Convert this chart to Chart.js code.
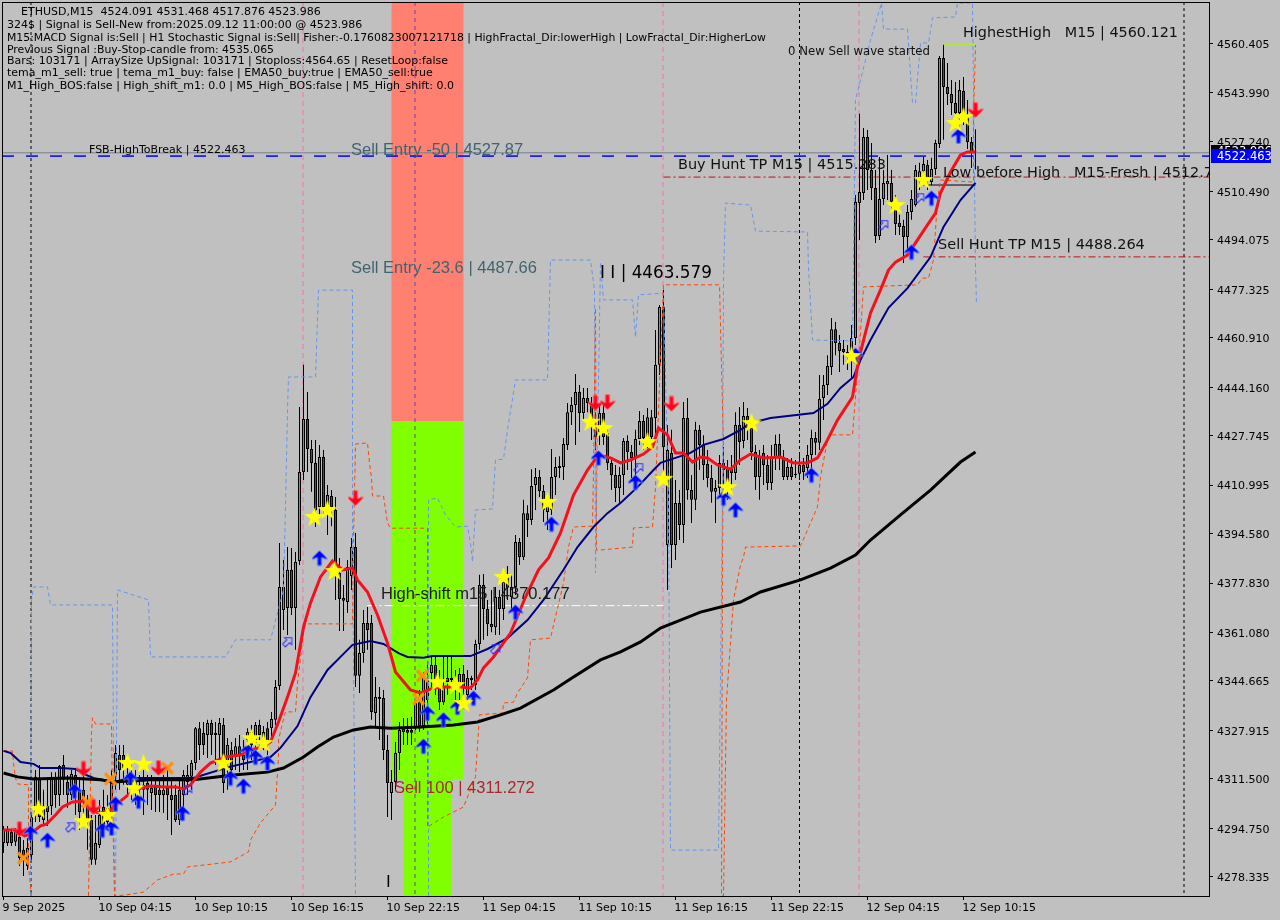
<!DOCTYPE html>
<html><head><meta charset="utf-8">
<style>html,body{margin:0;padding:0;background:#c0c0c0}canvas{display:block}</style>
<script src="https://cdn.jsdelivr.net/npm/chart.js@4/dist/chart.umd.js"></script>
</head><body><canvas id="c" width="1280" height="920"></canvas>
<script>
const opens=[4289.8,4289.8,4293.5,4290.2,4291.8,4287.5,4282.0,4285.7,4299.3,4311.8,
4297.6,4302.3,4302.3,4311.8,4306.1,4316.2,4310.5,4306.1,4312.8,4307.8,
4307.8,4304.4,4297.6,4284.1,4289.1,4302.0,4296.9,4300.0,4312.2,4319.6,
4319.6,4309.5,4309.5,4308.4,4309.5,4307.8,4310.1,4306.7,4309.5,4307.8,
4306.1,4308.4,4306.1,4306.1,4297.6,4306.1,4310.5,4312.2,4316.9,4328.7,
4327.1,4326.4,4330.4,4327.1,4326.4,4329.8,4317.2,4321.3,4319.6,4322.6,
4319.6,4324.7,4327.4,4323.7,4329.8,4324.0,4328.7,4328.7,4331.5,4343.0,
4368.7,4369.4,4382.3,4369.4,4385.3,4415.4,4433.4,4423.2,4418.5,4403.6,
4420.5,4401.6,4407.3,4402.6,4381.2,4372.8,4371.4,4380.2,4390.0,4346.4,
4354.1,4364.3,4364.3,4333.8,4339.2,4338.9,4321.3,4306.7,4310.5,4320.3,
4328.4,4328.1,4328.1,4329.1,4337.5,4329.4,4338.2,4347.4,4350.1,4342.3,
4337.5,4345.7,4345.7,4345.0,4343.3,4347.0,4339.9,4345.7,4343.3,4357.2,
4377.2,4369.0,4364.0,4362.9,4373.1,4369.0,4379.9,4373.1,4376.5,4391.7,
4386.6,4401.5,4399.2,4411.0,4413.7,4409.0,4401.9,4402.6,4413.7,4416.8,
4417.1,4424.6,4435.7,4438.1,4442.5,4435.4,4440.5,4438.1,4430.7,4429.0,
4435.4,4428.6,4418.5,4414.4,4410.0,4414.4,4425.9,4422.2,4420.5,4426.6,
4432.7,4427.3,4434.0,4433.7,4451.7,4471.3,4390.7,4421.9,4390.7,4404.9,
4397.5,4433.7,4409.3,4406.0,4429.7,4424.6,4418.1,4413.4,4408.7,4410.0,
4418.5,4416.8,4416.8,4415.1,4431.3,4425.9,4434.4,4430.3,4422.2,4413.7,
4421.9,4417.8,4411.7,4420.5,4424.9,4420.5,4413.7,4417.1,4414.8,4414.8,
4417.8,4416.8,4421.2,4426.9,4425.3,4440.5,4444.9,4451.0,4463.8,4459.1,
4457.1,4456.1,4454.4,4460.8,4506.5,4509.9,4528.9,4517.7,4511.6,4495.3,
4507.9,4512.9,4513.3,4506.9,4499.8,4498.7,4495.0,4503.5,4505.8,4514.6,
4517.3,4519.4,4513.6,4518.0,4526.5,4555.6,4545.8,4543.4,4540.4,4537.0,
4544.4,4535.6,4527.2,4524.091];
const closes=[4294.6,4294.6,4289.8,4294.2,4284.7,4284.7,4288.2,4298.6,4312.2,4298.6,
4302.3,4300.3,4311.8,4306.1,4315.9,4311.2,4306.1,4313.2,4307.1,4300.3,
4304.4,4296.9,4284.1,4289.8,4299.3,4295.9,4301.7,4310.1,4320.3,4314.5,
4315.2,4312.8,4307.8,4311.2,4307.8,4309.5,4307.8,4308.4,4306.1,4306.1,
4307.8,4306.1,4304.4,4297.6,4307.8,4312.8,4312.8,4316.9,4328.7,4323.0,
4323.0,4330.4,4326.4,4326.4,4330.4,4310.1,4323.0,4314.5,4322.6,4319.6,
4317.9,4327.4,4323.0,4329.8,4326.4,4327.4,4323.7,4331.8,4342.6,4376.5,
4376.5,4382.3,4369.4,4385.0,4415.4,4433.4,4423.2,4418.5,4402.6,4420.5,
4403.6,4407.6,4403.6,4384.0,4372.4,4371.8,4383.3,4390.0,4346.4,4354.1,
4364.3,4361.9,4334.2,4339.2,4338.6,4321.3,4310.1,4310.5,4320.3,4328.1,
4327.4,4327.1,4327.1,4337.2,4329.4,4346.0,4345.0,4350.1,4345.0,4337.5,
4342.6,4344.3,4345.0,4341.6,4347.0,4342.3,4345.7,4345.0,4357.2,4377.2,
4369.0,4364.0,4362.9,4373.1,4369.0,4378.2,4376.2,4376.5,4391.7,4386.6,
4401.5,4399.2,4410.7,4413.7,4409.0,4402.6,4406.0,4413.7,4417.1,4417.5,
4424.9,4435.7,4438.1,4442.5,4435.4,4440.5,4438.8,4433.0,4427.3,4435.4,
4427.3,4418.5,4414.4,4410.0,4414.4,4425.9,4422.2,4420.2,4426.6,4432.7,
4426.9,4434.0,4427.3,4451.7,4471.3,4423.9,4422.9,4390.7,4404.9,4397.5,
4433.7,4409.3,4406.0,4429.7,4424.6,4417.8,4413.4,4408.7,4410.0,4418.5,
4416.1,4410.3,4415.1,4431.3,4425.6,4434.4,4430.3,4422.2,4413.7,4420.5,
4417.8,4411.7,4420.5,4424.9,4420.5,4413.7,4417.1,4413.7,4414.4,4417.8,
4415.4,4421.2,4426.9,4425.3,4440.2,4444.9,4451.3,4463.8,4459.1,4456.4,
4456.1,4454.4,4460.8,4506.9,4510.2,4528.9,4517.7,4511.6,4495.3,4507.9,
4513.3,4514.0,4506.9,4499.4,4498.4,4495.0,4503.5,4507.9,4517.7,4517.3,
4519.7,4515.0,4518.0,4526.8,4555.6,4545.8,4543.4,4540.4,4537.0,4544.8,
4535.6,4527.2,4523.8,4523.986];
const highs=[4295.6,4295.6,4294.6,4294.9,4294.2,4290.8,4291.5,4299.3,4314.5,4316.2,
4307.8,4311.2,4313.8,4313.8,4316.2,4319.6,4312.8,4314.5,4314.5,4311.2,
4314.5,4306.1,4299.3,4299.3,4304.4,4307.8,4306.1,4314.5,4323.0,4323.0,
4323.0,4319.6,4317.9,4314.5,4312.8,4314.5,4312.8,4312.8,4311.2,4311.2,
4312.8,4314.5,4311.2,4309.5,4311.2,4314.5,4316.2,4317.9,4329.1,4330.8,
4330.8,4331.5,4331.5,4330.8,4332.1,4332.1,4325.4,4324.0,4325.4,4326.4,
4324.7,4328.7,4329.8,4330.8,4331.5,4329.4,4330.8,4334.2,4345.0,4391.4,
4385.6,4390.0,4389.7,4388.3,4437.4,4451.7,4442.5,4426.3,4426.3,4424.6,
4422.9,4411.0,4409.3,4407.0,4386.3,4377.2,4385.6,4393.1,4394.8,4358.6,
4368.7,4369.7,4367.0,4346.0,4342.6,4341.6,4326.4,4314.5,4324.0,4330.8,
4332.1,4332.1,4332.5,4338.2,4341.6,4347.7,4350.1,4352.8,4352.8,4348.4,
4352.8,4352.8,4352.8,4348.4,4349.1,4350.1,4348.4,4346.4,4358.6,4380.6,
4380.9,4372.1,4375.5,4376.5,4375.5,4381.6,4383.6,4380.6,4394.1,4393.1,
4406.0,4404.2,4416.4,4416.8,4416.1,4411.0,4407.6,4423.2,4420.5,4420.8,
4426.9,4438.8,4440.8,4448.6,4444.9,4443.9,4443.9,4440.8,4435.7,4438.1,
4438.1,4430.3,4420.2,4417.8,4417.1,4426.9,4427.9,4424.6,4429.7,4436.1,
4434.7,4437.1,4436.4,4463.5,4472.0,4477.1,4431.3,4429.7,4412.7,4409.3,
4439.1,4440.5,4414.4,4432.4,4431.3,4427.9,4422.9,4417.8,4412.7,4421.2,
4423.9,4419.5,4421.2,4435.7,4437.4,4439.1,4437.1,4433.0,4424.6,4422.9,
4424.6,4421.2,4424.6,4428.0,4428.3,4422.9,4420.2,4420.2,4419.5,4421.2,
4420.2,4424.6,4429.7,4429.0,4448.3,4448.3,4455.0,4467.6,4466.2,4461.8,
4460.1,4458.4,4465.2,4509.2,4536.7,4531.9,4531.2,4526.8,4517.7,4522.1,
4517.7,4522.8,4517.7,4509.2,4502.5,4500.8,4505.8,4510.9,4519.4,4520.1,
4522.1,4521.1,4521.8,4527.9,4556.3,4560.1,4553.9,4548.2,4547.5,4548.2,
4549.2,4541.4,4528.9,4531.468];
const lows=[4286.4,4288.8,4288.8,4288.8,4282.0,4278.6,4280.7,4284.1,4296.9,4296.9,
4295.6,4295.6,4299.3,4301.7,4302.3,4306.1,4301.7,4304.4,4299.3,4294.2,
4299.3,4287.5,4282.4,4282.4,4288.1,4294.2,4294.2,4294.2,4307.8,4307.8,
4309.5,4306.1,4304.4,4302.7,4305.0,4299.3,4302.7,4301.0,4300.3,4300.3,
4300.0,4297.6,4292.5,4296.9,4295.9,4299.3,4306.1,4307.8,4314.5,4317.9,
4319.6,4318.6,4319.6,4316.2,4318.6,4306.7,4307.8,4311.8,4314.5,4313.8,
4314.5,4314.5,4317.9,4319.6,4322.0,4321.3,4319.6,4324.7,4329.8,4341.6,
4361.9,4360.2,4367.0,4355.2,4383.9,4412.7,4415.4,4408.7,4396.8,4400.9,
4400.9,4394.1,4397.1,4372.1,4361.6,4361.6,4367.7,4375.5,4342.6,4340.6,
4350.8,4355.2,4331.5,4329.1,4324.7,4317.9,4298.6,4297.6,4307.8,4314.5,
4323.0,4323.0,4323.0,4328.1,4327.4,4328.1,4329.8,4341.6,4339.9,4334.8,
4336.5,4339.9,4341.6,4338.2,4338.2,4339.9,4338.2,4341.6,4341.6,4355.2,
4358.6,4359.9,4361.2,4360.2,4360.2,4365.3,4372.1,4368.7,4373.8,4383.9,
4385.6,4393.4,4397.5,4402.6,4407.0,4398.5,4395.8,4400.9,4407.6,4413.4,
4412.7,4422.9,4431.3,4424.6,4429.0,4433.0,4435.7,4426.3,4422.9,4424.6,
4424.6,4416.1,4409.3,4405.3,4405.0,4407.6,4416.1,4413.4,4414.4,4424.6,
4422.9,4423.5,4422.9,4428.0,4448.3,4412.7,4375.5,4382.9,4385.6,4392.4,
4391.4,4406.0,4398.2,4402.6,4416.1,4412.7,4410.3,4405.0,4398.2,4407.6,
4409.3,4406.0,4409.3,4412.7,4417.8,4423.5,4426.3,4419.5,4409.3,4406.0,
4411.0,4409.3,4409.3,4416.1,4416.1,4412.7,4412.7,4412.7,4413.4,4412.7,
4412.7,4413.4,4416.8,4421.2,4422.9,4433.0,4441.5,4448.3,4455.0,4449.3,
4451.7,4450.0,4447.3,4458.4,4494.0,4507.5,4510.9,4507.5,4493.0,4494.0,
4505.8,4507.5,4504.2,4495.7,4495.7,4486.2,4490.6,4500.8,4505.2,4510.9,
4512.6,4510.9,4512.6,4516.0,4525.1,4527.9,4539.7,4536.3,4535.3,4531.2,
4532.9,4524.8,4518.4,4517.876];

const fastEma=[[0,4294.2],[3,4294.2],[5.25,4292.2],[6.75,4292.9],[9.25,4295.6],[10.75,4296.2],[13,4299.3],[14.75,4302.0],[17.25,4303.7],[20,4304.0],[22.25,4300.6],[24.25,4299.9],[26.75,4301.0],[29.25,4304.0],[31.75,4306.7],[34.25,4308.4],[36.75,4309.1],[40.5,4308.8],[43,4308.8],[45,4308.1],[46.75,4309.5],[49.25,4313.8],[51.75,4316.9],[55.5,4318.9],[59.25,4319.6],[61.75,4321.3],[64.75,4322.3],[66.75,4324.0],[68.75,4330.8],[71,4339.2],[73,4347.4],[75,4362.9],[76.75,4371.1],[79.25,4379.9],[82.25,4385.3],[84.75,4382.3],[87.25,4382.9],[88.5,4378.9],[91,4374.8],[93.5,4367.0],[96,4357.5],[98,4347.7],[101.75,4341.6],[104.25,4340.6],[107.5,4342.3],[110.5,4342.6],[114.25,4342.6],[116.75,4342.3],[118.5,4345.0],[120,4349.1],[122.5,4352.8],[126.75,4360.9],[130.5,4373.1],[133.75,4382.3],[136.25,4386.3],[139.25,4394.8],[142.5,4407.6],[146,4416.1],[148.75,4421.2],[151.75,4420.2],[154.25,4418.5],[156.75,4419.5],[160,4421.5],[162.25,4423.9],[163.75,4430.3],[166,4428.0],[168,4421.9],[170,4421.9],[172.25,4418.8],[174.25,4420.5],[176,4420.2],[178.5,4417.8],[181.75,4416.4],[184.25,4419.5],[186.75,4421.5],[190,4420.2],[194.25,4420.5],[197.5,4418.5],[201,4418.5],[203.5,4420.2],[206,4426.3],[208.5,4433.0],[212.25,4440.8],[213.75,4453.3],[216.75,4469.3],[219.25,4477.1],[221.25,4483.8],[223,4486.5],[226,4488.9],[228.5,4494.0],[231,4499.1],[233,4503.1],[234.25,4509.9],[236.75,4517.0],[239.25,4522.8],[241,4523.8],[243,4523.8]];
const midEma=[[0,4321.0],[1.75,4320.3],[4.25,4317.2],[7.5,4316.6],[9.25,4315.2],[14.25,4315.2],[18,4314.9],[20,4313.2],[22.5,4311.8],[27.5,4310.5],[31.75,4311.8],[36.75,4311.8],[41.75,4311.8],[47.5,4311.8],[56.25,4315.5],[61.75,4317.2],[66.75,4318.9],[69.25,4322.0],[73.5,4329.4],[76.75,4339.2],[81,4348.4],[84.75,4353.5],[87.25,4356.9],[91.75,4358.2],[95,4357.2],[98.75,4354.1],[101,4352.8],[105,4352.5],[107.25,4353.1],[116.75,4353.1],[121,4355.5],[126,4359.2],[131,4365.3],[135,4372.1],[140,4382.3],[143.5,4390.0],[147.5,4396.8],[151,4401.5],[154.25,4404.9],[158.5,4410.3],[162.5,4416.1],[164.25,4418.5],[168,4420.2],[171.75,4421.9],[175,4424.6],[180,4426.6],[184.25,4429.7],[186.75,4432.0],[191.75,4433.7],[202.5,4435.4],[206,4438.5],[209.25,4443.9],[212.5,4447.6],[214.25,4453.3],[216.75,4460.1],[221.25,4471.0],[226,4477.7],[231.75,4488.2],[235,4498.4],[239.25,4507.5],[243,4513.3]];
const slowEma=[[0,4313.5],[3.5,4312.2],[7.5,4311.5],[16,4311.8],[24.25,4311.2],[27.5,4310.5],[36.75,4311.2],[47.5,4311.2],[57.5,4312.8],[66,4313.8],[70,4315.2],[75,4318.9],[78.5,4322.3],[82.5,4325.7],[87.5,4328.1],[91.75,4329.1],[96.75,4328.7],[104.25,4329.1],[112.5,4329.8],[118.5,4330.8],[124.25,4333.2],[129.25,4335.5],[137.5,4341.6],[142.5,4346.0],[149.25,4351.8],[154.25,4354.5],[159.25,4357.9],[164.25,4362.6],[169.25,4365.3],[174.25,4368.0],[184.25,4371.4],[189.25,4374.8],[199.25,4378.9],[206.75,4382.9],[213,4387.3],[216.75,4392.4],[224.25,4400.9],[231.75,4409.3],[239.25,4418.8],[243,4422.2]];
const lowerBand=[[0,4321.0],[2.25,4321.0],[2.5,4316.9],[3,4311.8],[3.5,4309.8],[6.25,4309.5],[6.25,4281.7],[7,4271.9],[14,null],[21.25,4271.9],[22,4327.1],[22.25,4332.2],[23,4330.1],[27,4330.1],[27.25,4304.4],[27.75,4271.9],[30.5,4272.2],[35,4273.2],[38.5,4277.3],[42.5,4279.3],[45,4279.3],[46,4281.7],[54.25,4283.0],[56.75,4283.4],[61.25,4286.8],[61.75,4290.8],[64.25,4296.6],[68,4302.7],[68.75,4319.0],[68.75,4324.7],[69.75,4330.4],[70.5,4334.2],[73,4334.2],[73.5,4344.0],[75,4360.9],[75.5,4364.0],[87.25,4364.0],[87.5,4392.4],[88,4424.9],[91,4425.3],[91.5,4418.5],[92,4413.4],[92.25,4407.3],[95,4407.3],[96,4398.2],[96.75,4396.4],[106,4396.4],[106,4295.2],[110,4298.6],[115,4302.0],[118,4312.2],[119,4333.2],[124.75,4333.8],[125,4337.2],[127.5,4337.5],[128.5,4340.6],[131,4345.7],[131.75,4358.6],[136.75,4359.2],[140,4377.8],[141.25,4390.0],[142.5,4396.8],[147.25,4397.1],[147.5,4416.1],[148,4471.0],[148.25,4389.0],[149,4389.0],[157.25,4390.0],[157.5,4396.5],[162.25,4396.8],[163,4410.3],[165,4478.8],[179,4478.8],[180,4423.9],[179.75,4385.6],[179.5,4271.9],[180,4271.9],[180.75,4338.2],[182.5,4372.1],[184.25,4383.9],[185,4386.6],[185.5,4390.0],[199.25,4390.4],[201,4395.8],[203.5,4403.6],[204.25,4413.7],[206,4426.3],[206.75,4428.0],[212.25,4428.0],[214.25,4462.5],[215,4478.1],[228.5,4478.8],[229.75,4481.1],[231.25,4481.1],[232.5,4487.2],[233.5,4507.5],[234.25,4514.3],[242.5,4513.6],[242.5,4535.6],[243,4560.0]];
const upperBand=[[6.75,4271.9],[7,4372.1],[7.5,4376.5],[11,4376.5],[11.75,4370.4],[27.25,4370.4],[27.75,4271.9],[28,4271.9],[28.5,4375.5],[36.25,4372.1],[36.75,4352.8],[45.5,4352.8],[55.5,4352.8],[58,4358.6],[66.75,4358.6],[70,4375.5],[70.5,4403.6],[71,4436.4],[71.25,4447.6],[78,4447.6],[78.75,4477.0],[87.25,4477.0],[87.25,4392.4],[88,4271.9],[97,null],[106.25,4271.9],[106.25,4406.0],[108.5,4406.6],[110.5,4400.9],[113,4396.8],[116,4397.1],[116.75,4391.4],[117.25,4385.0],[118,4402.6],[122.25,4402.9],[123,4419.5],[125,4419.8],[126,4429.7],[128,4446.6],[136,4446.6],[136.75,4487.2],[146.75,4487.2],[147.75,4477.0],[148,4381.2],[148.5,4426.3],[149.25,4486.5],[150,4473.7],[157.25,4473.7],[158,4461.1],[158.75,4475.4],[165,4476.0],[166.25,4406.0],[166.75,4287.4],[178.75,4287.4],[179.75,4406.0],[180,4480.4],[180.5,4506.5],[186.75,4505.8],[188,4497.0],[201,4496.7],[201.25,4484.8],[202.25,4460.1],[212.25,4459.8],[213,4541.4],[216.75,4561.7],[219.5,4574.2],[220,4565.4],[226,4565.4],[227.25,4540.4],[228,4540.4],[229.25,4560.7],[231.25,4560.7],[232.25,4569.2],[238,4569.5],[238.5,4574.2],[242.25,4574.2],[243,4484.8],[243.25,4472.0]];

const starSignals=[[8.75,4301.3],[20,4297.2],[26,4299.3],[31,4316.9],[35,4316.6],[32.75,4308.4],[55,4316.9],[62,4325.3],[65,4323.7],[77.75,4400.2],[81,4402.6],[82.75,4381.9],[108.5,4344.3],[113,4343.3],[115,4337.2],[125,4379.9],[136,4405.3],[146.75,4432.4],[150,4430.3],[161,4425.6],[165,4413.1],[181,4410.3],[187,4432.0],[212,4454.7],[223,4505.8],[230,4514.3],[238,4533.6],[240,4535.6]];
const buyArrows=[[6.75,4293.2],[11,4290.8],[17.75,4307.4],[24.75,4294.2],[27,4294.9],[28,4303.0],[31.75,4311.5],[33.75,4304.0],[44.75,4299.9],[56.75,4311.8],[60,4309.1],[61,4320.9],[63,4318.9],[66,4316.9],[79,4386.3],[105,4322.6],[106,4333.8],[110,4331.5],[113.5,4335.8],[117.5,4338.9],[128,4368.0],[137,4397.8],[148.75,4420.2],[158,4412.0],[180,4406.6],[183,4402.6],[202,4414.4],[213,4455.0],[227,4489.9],[232,4508.2],[238.75,4529.2]];
const sellArrows=[[4,4294.5],[20,4314.9],[22.5,4302.0],[38.75,4315.2],[88,4406.6],[148,4438.8],[151,4439.1],[167,4438.5],[243,4538.0]];
const crossSignals=[[5,4284.7],[21,4303.7],[26.75,4311.5],[41,4315.2],[104.75,4346.4],[103.75,4338.6]];
const hollowArrows=[[16.75,4295.2],[46,4307.8],[71,4357.9],[123,4355.5],[158.75,4416.8],[220,4499.1],[229,4508.2]];

const priceTicks=[4560.405,4543.990,4527.240,4510.490,4494.075,4477.325,4460.910,4444.160,4427.745,4410.995,4394.580,4377.830,4361.080,4344.665,4327.915,4311.500,4294.750,4278.335];
const timeTicks=[0,24,48,72,96,120,144,168,192,216,240];
const timeLabels=['9 Sep 2025','10 Sep 04:15','10 Sep 10:15','10 Sep 16:15','10 Sep 22:15','11 Sep 04:15','11 Sep 10:15','11 Sep 16:15','11 Sep 22:15','12 Sep 04:15','12 Sep 10:15'];

const zoneBar=106;
const redZone=[4432.7,4574.6];
const greenZone=[4311.272,4432.7];
const lowerZone=[4271.8,4311.272];
const Y_MIN=4271.86, Y_MAX=4574.57, X_MIN=-0.375, X_MAX=301.375;
const dottedBars=[6.875,199,295.125];
const pinkBars=[74.875,164.875,213.875];
const purpleBars=[102.875];

const infoLines=[
 ['ETHUSD,M15  4524.091 4531.468 4517.876 4523.986',21,12,305],
 ['324$ | Signal is Sell-New from:2025.09.12 11:00:00 @ 4523.986',7,25,357],
 ['M15:MACD Signal is:Sell | H1 Stochastic Signal is:Sell| Fisher:-0.1760823007121718 | HighFractal_Dir:lowerHigh | LowFractal_Dir:HigherLow',7,38,759],
 ['Previous Signal :Buy-Stop-candle from: 4535.065',7,50,267],
 ['Bars: 103171 | ArraySize UpSignal: 103171 | Stoploss:4564.65 | ResetLoop:false',7,61,441],
 ['tema_m1_sell: true | tema_m1_buy: false | EMA50_buy:true | EMA50_sell:true',7,73,436],
 ['M1_High_BOS:false | High_shift_m1: 0.0 | M5_High_BOS:false | M5_High_shift: 0.0',7,86,456]
];
const chartNotes=[
 ['FSB-HighToBreak | 4522.463',89,150,159,'11px "DejaVu Sans"','#000'],
 ['Sell Entry -50 | 4527.87',351,150,173,'16.5px "Liberation Sans"','#3f6470'],
 ['Sell Entry -23.6 | 4487.66',351,268,187,'16.5px "Liberation Sans"','#3f6470'],
 ['High-shift m15 | 4370.177',381,594,191,'16.5px "Liberation Sans"','#1a1a1a'],
 ['Sell 100 | 4311.272',394,788,141,'16.5px "Liberation Sans"','#a52a2a'],
 ['Buy Hunt TP M15 | 4515.283',678,165,208,'14.5px "DejaVu Sans"','#111'],
 ['Low before High   M15-Fresh | 4512.7',943,173,270,'14.5px "DejaVu Sans"','#111'],
 ['HighestHigh   M15 | 4560.121',963,33,215,'14.5px "DejaVu Sans"','#111'],
 ['0 New Sell wave started',788,52,142,'12px "DejaVu Sans"','#111'],
 ['Sell Hunt TP M15 | 4488.264',938,245,207,'14.5px "DejaVu Sans"','#111'],
 ['I I | 4463.579',600,273,112,'18px "DejaVu Sans"','#000'],
 ['I',386,883,6,'16px "DejaVu Sans"','#000']
];

const pts=a=>a.map(p=>({x:p[0],y:p[1]}));
const bars=opens.map((_,i)=>i);
function mk(w,h,draw){const c=document.createElement('canvas');c.width=w;c.height=h;draw(c.getContext('2d'),w,h);return c;}
const starImg=mk(22,22,(g)=>{g.beginPath();for(let i=0;i<10;i++){const r=i%2?4.3:10.5,a=-Math.PI/2+i*Math.PI/5;g.lineTo(11+r*Math.cos(a),11.5+r*Math.sin(a));}g.closePath();g.fillStyle='#ffff00';g.fill();});
function arrowPath(g,dy){g.beginPath();[[8,1],[15,8],[15,10],[11,8],[10,8],[10,16],[6,16],[6,8],[5,8],[1,10],[1,8]].forEach(p=>g.lineTo(p[0],dy<0?17-p[1]:p[1]));g.closePath();}
const buyImg=mk(16,17,(g)=>{arrowPath(g,1);g.fillStyle='#0000ff';g.fill();g.strokeStyle='rgba(90,140,255,.9)';g.lineWidth=1;g.stroke();});
const sellImg=mk(16,17,(g)=>{arrowPath(g,-1);g.fillStyle='#ff0020';g.fill();g.strokeStyle='rgba(255,90,90,.9)';g.lineWidth=1;g.stroke();});
const hollowImg=mk(12,12,(g)=>{g.translate(6,6);g.rotate(Math.PI/4);g.translate(-6,-6);g.beginPath();[[6,0],[11,5],[8,5],[8,11],[4,11],[4,5],[1,5]].forEach(p=>g.lineTo(p[0],p[1]));g.closePath();g.strokeStyle='#3030ff';g.lineWidth=1;g.stroke();});
const crossImg=mk(15,15,(g)=>{g.strokeStyle='#ff9010';g.lineWidth=3.2;g.beginPath();g.moveTo(2,2);g.lineTo(13,13);g.moveTo(13,2);g.lineTo(2,13);g.stroke();});

const lineDs=(data,color,width,dash,order)=>({type:'line',data:data,borderColor:color,borderWidth:width,borderDash:dash||[],pointRadius:0,tension:0,fill:false,spanGaps:false,order:order});
const markerDs=(data,img,order)=>({type:'line',data:pts(data),showLine:false,pointStyle:img,pointRadius:9,pointHoverRadius:9,order:order});
const vert=(x,color,dash)=>lineDs([{x:x,y:Y_MAX},{x:x,y:Y_MIN}],color,1,dash,8);
const horiz=(x0,x1,p,color,dash,w)=>lineDs([{x:x0,y:p},{x:x1,y:p}],color,w||1,dash,7);
const zone=(r,color,thick)=>({type:'bar',data:[{x:zoneBar,y:r}],backgroundColor:color,barThickness:thick,grouped:false,order:20,inflateAmount:0});

const datasets=[
 zone(redZone,'#ff8070',72),zone(greenZone,'#80ff00',72),zone(lowerZone,'#80ff00',48),
 ...dottedBars.map(x=>vert(x,'#000',[3,3])),
 ...pinkBars.map(x=>vert(x,'#f070b0',[5,4])),
 ...purpleBars.map(x=>vert(x,'#7040b0',[4,4])),
 horiz(X_MIN,X_MAX,4523.5,'#708090',[],1),
 horiz(X_MIN,X_MAX,4522.4,'#0000ff',[12,12],1.5),
 horiz(165,X_MAX,4515.283,'#c01010',[7,3,2,3],1),
 horiz(230,X_MAX,4488.264,'#c01010',[7,3,2,3],1),
 horiz(91,165,4370.177,'#ffffff',[9,3,2,3],1),
 horiz(230,243,4512.6,'#000',[],1),
 horiz(235,243,4560.121,'#b0f020',[],1),
 {type:'bar',data:bars.map(i=>({x:i,y:[lows[i],highs[i]]})),backgroundColor:'#000',barThickness:1,grouped:false,order:6,inflateAmount:0},
 {type:'bar',data:bars.map(i=>({x:i,y:[opens[i],closes[i]]})),backgroundColor:bars.map(i=>closes[i]>=opens[i]?'#22c384':'#b8203e'),borderColor:'#000',borderWidth:1,borderSkipped:false,barThickness:3,grouped:false,order:5,inflateAmount:0},
 lineDs(pts(lowerBand),'#ff4500',1,[4,3],4),
 lineDs(pts(upperBand),'#6495ed',1,[4,3],4),
 lineDs(pts(slowEma),'#000',3,[],3),
 lineDs(pts(midEma),'#000080',2,[],3),
 lineDs(pts(fastEma),'#f5101e',3,[],2),
 markerDs(hollowArrows,hollowImg,1.4),
 markerDs(crossSignals,crossImg,1.3),
 markerDs(buyArrows,buyImg,1.2),
 markerDs(sellArrows,sellImg,1.1),
 markerDs(starSignals,starImg,1)
];

const notesPlugin={id:'notes',afterDraw(ch){
 const g=ch.ctx,a=ch.chartArea;
 g.save();g.strokeStyle='#000';g.lineWidth=1;g.strokeRect(2.5,2.5,1207,894);
 g.beginPath();g.rect(a.left,a.top,a.right-a.left,a.bottom-a.top);g.clip();
 g.textBaseline='middle';g.textAlign='left';
 chartNotes.forEach(n=>{g.font=n[4];g.fillStyle=n[5];g.fillText(n[0],n[1],n[2],n[3]);});
 g.font='11px "DejaVu Sans"';g.fillStyle='#000';
 infoLines.forEach(n=>g.fillText(n[0],n[1],n[2],n[3]));
 g.restore();
 g.save();g.font='11.5px "DejaVu Sans"';g.textBaseline='middle';g.textAlign='left';
 g.fillStyle='#000';g.fillRect(1211,145,60,13);g.fillStyle='#fff';g.fillText('4523.986',1217,152);
 g.fillStyle='#0000ff';g.fillRect(1211,149,60,14);g.fillStyle='#fff';g.fillText('4522.463',1217,157);
 g.restore();
}};
const zeroPad=s=>{s.paddingLeft=0;s.paddingRight=0;s.paddingTop=0;s.paddingBottom=0;};

new Chart(document.getElementById('c'),{
 type:'bar',
 data:{datasets:datasets},
 plugins:[notesPlugin],
 options:{
  responsive:false,animation:false,devicePixelRatio:1,
  layout:{autoPadding:false,padding:{left:2,top:2,right:0,bottom:0}},
  plugins:{legend:{display:false},tooltip:{enabled:false}},
  scales:{
   x:{type:'linear',min:X_MIN,max:X_MAX,offset:false,
    grid:{display:true,drawOnChartArea:false,drawTicks:true,tickLength:4,tickColor:'#000',offset:false},
    border:{display:true,color:'#000'},
    afterBuildTicks:s=>{s.ticks=timeTicks.map(v=>({value:v}));},
    afterFit:s=>{s.height=24;zeroPad(s);},
    ticks:{autoSkip:false,maxRotation:0,minRotation:0,align:'start',padding:2,labelOffset:-1,color:'#000',font:{family:'"DejaVu Sans"',size:11},
     callback:v=>timeLabels[timeTicks.indexOf(v)]}},
   y:{type:'linear',position:'right',min:Y_MIN,max:Y_MAX,
    grid:{display:true,drawOnChartArea:false,drawTicks:true,tickLength:4,tickColor:'#000'},
    border:{display:true,color:'#000'},
    afterBuildTicks:s=>{s.ticks=priceTicks.map(v=>({value:v}));},
    afterFit:s=>{s.width=71;zeroPad(s);},
    ticks:{autoSkip:false,padding:4,labelOffset:1.5,color:'#000',font:{family:'"DejaVu Sans"',size:11},callback:v=>v.toFixed(3)}}
  }
 }
});
</script></body></html>
